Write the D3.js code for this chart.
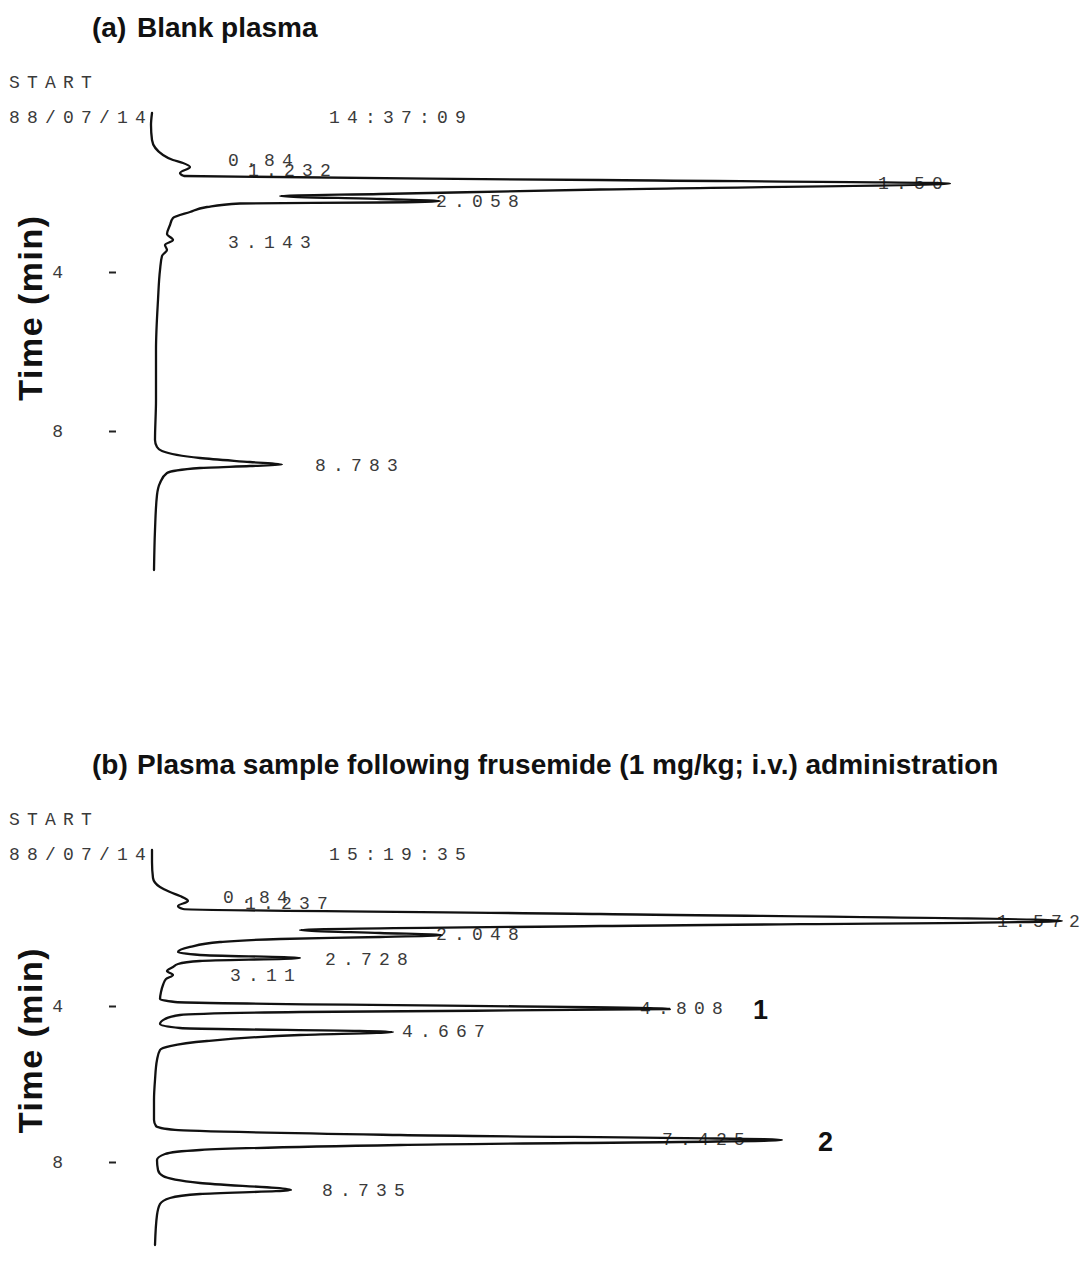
<!DOCTYPE html>
<html>
<head>
<meta charset="utf-8">
<script src="https://cdn.jsdelivr.net/npm/d3@7"></script>
<style>
  body { margin: 0; background: #fff; }
  svg { display: block; }
  .dm { font-family: "Liberation Mono", "DejaVu Sans Mono", monospace; font-size: 18px; fill: #3a3a3a; letter-spacing: 7.2px; }
  .ttl { font-family: "Liberation Sans", Arial, sans-serif; font-weight: bold; font-size: 28px; fill: #111; }
  .axl { font-family: "Liberation Sans", Arial, sans-serif; font-weight: bold; font-size: 34px; fill: #111; letter-spacing: 1.5px; }
  .mk { font-family: "Liberation Sans", Arial, sans-serif; font-weight: bold; font-size: 27px; fill: #111; }
  .trace { fill: none; stroke: #111; stroke-width: 2.3; stroke-linejoin: round; stroke-linecap: round; }
</style>
</head>
<body>
<svg id="chart" width="1089" height="1287"></svg>
<script>
// Chromatogram (a): blank plasma — [retention time (min), detector signal]
const traceA = [
  [0.000, 2], [0.302, 1], [0.679, 2], [1.057, 13], [1.182, 23], [1.258, 33],
  [1.358, 40], [1.509, 30], [1.585, 34], [1.686, 450], [1.774, 800], [1.925, 450],
  [2.038, 230], [2.088, 130], [2.164, 230], [2.214, 290], [2.252, 230], [2.277, 90],
  [2.365, 57], [2.491, 40], [2.642, 23], [2.818, 20], [3.044, 17], [3.195, 23],
  [3.321, 15], [3.447, 17], [3.597, 12], [3.950, 10], [4.704, 8], [5.962, 6],
  [7.220, 6], [8.226, 5], [8.403, 7], [8.503, 12], [8.679, 50], [8.780, 100],
  [8.843, 132], [8.881, 100], [8.931, 50], [9.057, 17], [9.308, 10], [9.610, 7],
  [10.491, 5], [11.497, 4]
];

// Chromatogram (b): plasma after frusemide (1 mg/kg; i.v.)
const traceB = [
  [0.000, 2], [0.308, 2], [0.718, 3], [0.949, 10], [1.077, 20], [1.179, 30],
  [1.308, 38], [1.436, 28], [1.513, 33], [1.641, 450], [1.821, 912], [1.949, 450],
  [2.051, 150], [2.128, 230], [2.179, 292], [2.231, 230], [2.282, 130], [2.359, 70],
  [2.487, 40], [2.615, 28], [2.692, 50], [2.769, 150], [2.846, 50], [2.923, 28],
  [3.000, 23], [3.103, 17], [3.205, 23], [3.308, 16], [3.462, 13], [3.641, 11],
  [3.821, 10], [3.897, 25], [4.077, 520], [4.154, 150], [4.231, 30], [4.333, 15],
  [4.462, 10], [4.564, 30], [4.667, 243], [4.744, 150], [4.897, 57], [5.026, 20],
  [5.128, 10], [5.385, 7], [5.897, 5], [6.410, 4], [6.923, 4], [7.077, 6],
  [7.179, 25], [7.308, 250], [7.436, 632], [7.564, 250], [7.692, 50], [7.795, 15],
  [7.949, 7], [8.205, 8], [8.359, 13], [8.538, 50], [8.718, 141], [8.821, 50],
  [8.923, 20], [9.077, 10], [9.359, 7], [10.128, 5]
];

// Integrator retention-time printouts: [text, time, signal]
const labelsA = [
  ["0.84", 1.333, 78], ["1.232", 1.585, 98], ["1.50", 1.912, 728],
  ["2.058", 2.365, 286], ["3.143", 3.396, 78], ["8.783", 9.006, 165]
];
const labelsB = [
  ["0.84", 1.359, 73], ["1.237", 1.513, 95], ["1.572", 1.974, 847],
  ["2.048", 2.308, 286], ["2.728", 2.949, 175], ["3.11", 3.359, 80],
  ["4.808", 4.205, 490], ["4.667", 4.795, 252], ["7.425", 7.564, 512],
  ["8.735", 8.872, 172]
];
// Peak identification marks: [text, time, signal]
const markersB = [["1", 4.333, 603], ["2", 7.718, 668]];

const timeTicks = [4, 8];
const headerA = ["START", "88/07/14", "14:37:09"];
const headerB = ["START", "88/07/14", "15:19:35"];
const titleA = ["(a)", "Blank plasma"];
const titleB = ["(b)", "Plasma sample following frusemide (1 mg/kg; i.v.) administration"];
const axisTitle = "Time (min)";

const svg = d3.select("#chart");

// Detector signal runs to the right, shared by both chromatograms
const x = d3.scaleLinear().domain([0, 940]).range([150, 1090]);

const panels = [
  { top: 113, pxPerMin: 39.75, trace: traceA, labels: labelsA, markers: [], header: headerA, title: titleA },
  { top: 850, pxPerMin: 39.0,  trace: traceB, labels: labelsB, markers: markersB, header: headerB, title: titleB }
];

panels.forEach(p => {
  const y = d3.scaleLinear().domain([0, 12]).range([p.top, p.top + 12 * p.pxPerMin]);
  const g = svg.append("g");

  // Panel title
  g.append("text").attr("class", "ttl").attr("x", 92).attr("y", p.top - 76).text(p.title[0]);
  g.append("text").attr("class", "ttl").attr("x", 137).attr("y", p.top - 76).text(p.title[1]);

  // Printer header lines
  g.append("text").attr("class", "dm").attr("x", 9).attr("y", p.top - 25).text(p.header[0]);
  g.append("text").attr("class", "dm").attr("x", 9).attr("y", p.top + 10).text(p.header[1]);
  g.append("text").attr("class", "dm").attr("x", 329).attr("y", p.top + 10).text(p.header[2]);

  // Time axis
  const ax = g.append("g")
    .attr("transform", "translate(116,0)")
    .call(d3.axisLeft(y).tickValues(timeTicks).tickSize(7).tickPadding(46).tickFormat(d3.format("d")));
  ax.select(".domain").remove();
  ax.selectAll(".tick line").attr("stroke", "#222").attr("stroke-width", 2);
  ax.selectAll(".tick text").attr("class", "dm").style("letter-spacing", "0px").attr("fill", null);

  // Axis title
  const mid = (y(timeTicks[0]) + y(timeTicks[1])) / 2;
  g.append("text").attr("class", "axl")
    .attr("transform", `translate(42,${mid - 44}) rotate(-90)`)
    .attr("text-anchor", "middle")
    .text(axisTitle);

  // Retention-time labels
  g.selectAll("text.rt").data(p.labels).join("text")
    .attr("class", "dm rt")
    .attr("x", d => x(d[2]))
    .attr("y", d => y(d[1]))
    .text(d => d[0]);

  // Chromatogram trace
  const line = d3.line()
    .x(d => x(d[1]))
    .y(d => y(d[0]))
    .curve(d3.curveMonotoneY);
  g.append("path").attr("class", "trace").attr("d", line(p.trace));

  // Peak numbers
  g.selectAll("text.mkr").data(p.markers).join("text")
    .attr("class", "mk mkr")
    .attr("x", d => x(d[2]))
    .attr("y", d => y(d[1]))
    .text(d => d[0]);
});
</script>
</body>
</html>
